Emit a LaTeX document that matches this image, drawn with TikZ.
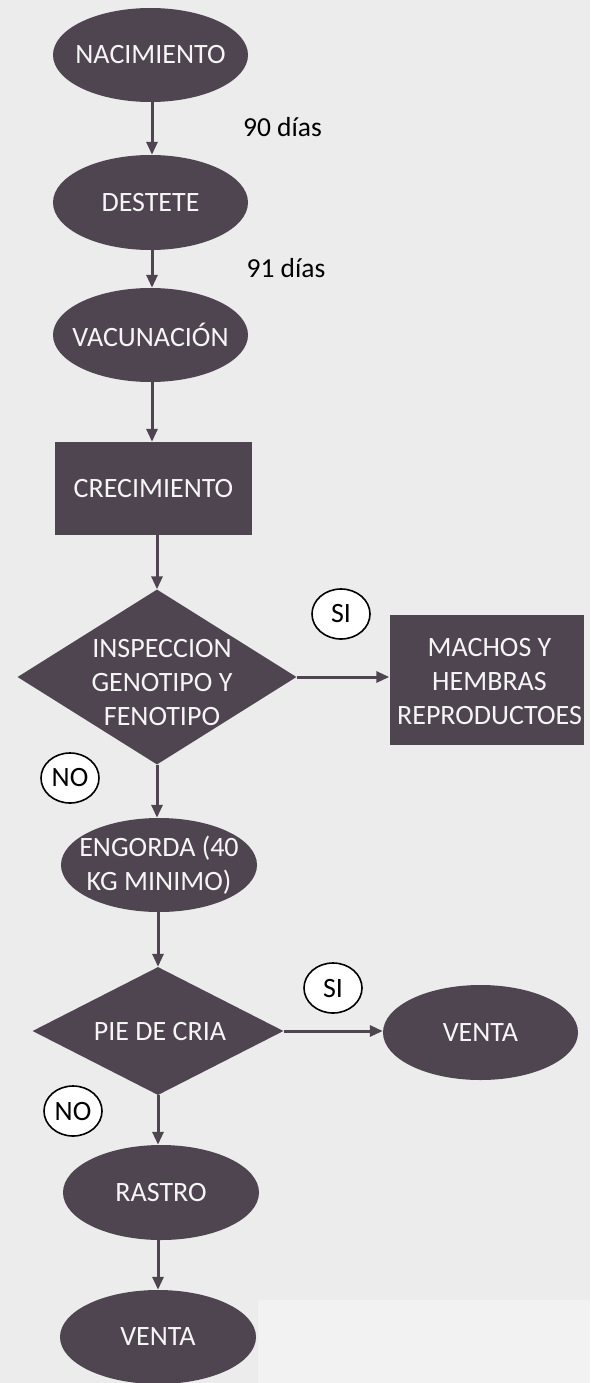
\documentclass[tikz,border=0pt]{standalone}
\usepackage{fontspec}
\setmainfont{Carlito}
\usetikzlibrary{shapes.geometric,arrows.meta}
\definecolor{boxc}{RGB}{79,69,80}
\definecolor{bgc}{RGB}{236,236,236}
\definecolor{bgplain}{RGB}{242,242,242}
\definecolor{txtc}{RGB}{245,245,245}
\tikzset{
  shp/.style={fill=boxc, draw=none, inner sep=0pt},
  ell/.style={shp, ellipse},
  rect/.style={shp, rectangle},
  dia/.style={shp, diamond},
  txt/.style={text=txtc, align=center, font=\fontsize{28}{34}\selectfont, inner sep=0pt},
  flow/.style={draw=boxc, line width=3pt, -{Triangle[width=11pt,length=13pt]}},
  tag/.style={ellipse, draw=black, line width=1.6pt, fill=white, inner sep=0pt, minimum width=58pt, minimum height=50pt, font=\fontsize{28}{30}\selectfont},
  note/.style={font=\fontsize{27.5}{30}\selectfont, text=black, inner sep=0pt}
}
\begin{document}
\begin{tikzpicture}[x=1pt,y=-1pt]
\fill[bgc] (0,0) rectangle (590,1383);
\fill[bgplain] (258,1300) rectangle (590,1383);
\useasboundingbox (0,0) rectangle (590,1383);

\node[ell, minimum width=195pt, minimum height=94pt] (nac) at (150.5,55) {};
\node[txt] at (nac) {NACIMIENTO};
\node[ell, minimum width=195pt, minimum height=95pt] (des) at (150.5,202.5) {};
\node[txt] at (des) {DESTETE};
\node[ell, minimum width=195pt, minimum height=94pt] (vac) at (150.5,335) {};
\node[txt] at (vac) {VACUNACIÓN};
\node[rect, minimum width=197pt, minimum height=93pt] (cre) at (153.5,488.5) {};
\node[txt] at (cre) {CRECIMIENTO};
\node[dia, minimum width=279pt, minimum height=175pt] (ins) at (157,677) {};
\node[txt] at ([shift={(5,6)}]ins.center) {INSPECCION\\GENOTIPO Y\\FENOTIPO};
\node[rect, minimum width=194pt, minimum height=130pt] (mac) at (486.5,680) {};
\node[txt] at ([shift={(3,2)}]mac.center) {MACHOS Y\\HEMBRAS\\REPRODUCTOES};
\node[ell, minimum width=196pt, minimum height=94pt] (eng) at (159,865) {};
\node[txt] at (eng) {ENGORDA (40\\KG MINIMO)};
\node[dia, minimum width=251pt, minimum height=128pt] (pie) at (158,1031) {};
\node[txt] at ([shift={(2,0)}]pie.center) {PIE DE CRIA};
\node[ell, minimum width=195pt, minimum height=95pt] (ven1) at (480.5,1032.5) {};
\node[txt] at (ven1) {VENTA};
\node[ell, minimum width=196pt, minimum height=95pt] (ras) at (161,1192.5) {};
\node[txt] at (ras) {RASTRO};
\node[ell, minimum width=196pt, minimum height=94pt] (ven2) at (158,1337) {};
\node[txt] at (ven2) {VENTA};

\node[note] (d90) at (282.5,127) {90 días};
\node[note] (d91) at (286,268) {91 días};
\node[tag] (si1) at (341,614) {SI};
\node[tag] (no1) at (70,778) {NO};
\node[tag] (si2) at (333,988) {SI};
\node[tag] (no2) at (73,1111) {NO};

\draw[flow] (nac.south -| 152,0) -- (des.north -| 152,0);
\draw[flow] (des.south -| 152,0) -- (vac.north -| 152,0);
\draw[flow] (vac.south -| 152,0) -- (cre.north -| 152,0);
\draw[flow] (cre.south -| ins.north) -- (ins.north);
\draw[flow] (ins.east) -- (mac.west |- ins.east);
\draw[flow] (ins.south) -- (ins.south |- eng.north);
\draw[flow] (eng.south -| pie.north) -- (pie.north);
\draw[flow] (pie.east) -- (ven1.west |- pie.east);
\draw[flow] (pie.south) -- (pie.south |- ras.north);
\draw[flow] (ras.south -| ven2.north) -- (ven2.north);
\end{tikzpicture}
\end{document}
